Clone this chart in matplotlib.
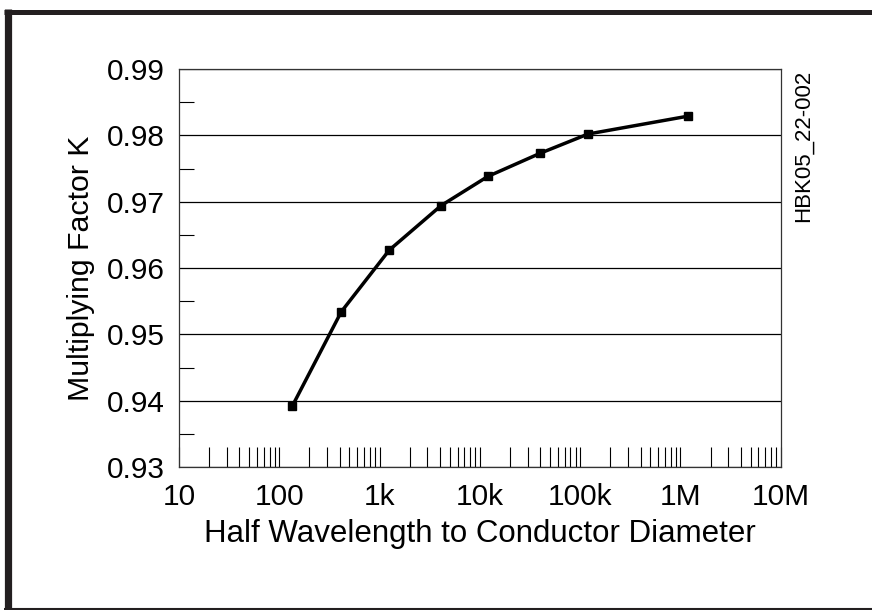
import matplotlib
matplotlib.use('Agg')
import matplotlib.pyplot as plt
from matplotlib.lines import Line2D
from matplotlib.ticker import FixedLocator, NullFormatter
import numpy as np

plt.rcParams['font.family'] = ['Liberation Sans', 'DejaVu Sans']

# values
ratio = [135, 415, 1250, 4100, 12000, 40000, 120000, 1200000]
factor_k = [0.9392, 0.9534, 0.9627, 0.9694, 0.9738, 0.9773, 0.9802, 0.9829]

x_ticks = [10, 100, 1e3, 1e4, 1e5, 1e6, 1e7]
x_labels = ['10', '100', '1k', '10k', '100k', '1M', '10M']
y_ticks = [0.93, 0.94, 0.95, 0.96, 0.97, 0.98, 0.99]
y_labels = ['0.93', '0.94', '0.95', '0.96', '0.97', '0.98', '0.99']

fig = plt.figure(figsize=(8.72, 6.10), dpi=100)
ax = fig.add_axes([179 / 872, 1 - 467 / 610, 601.7 / 872, 398 / 610])

ax.plot(ratio, factor_k, color='black', lw=2.5, marker='s', ms=6, zorder=3)

ax.set_xscale('log')
ax.set_xlim(10, 1e7)
ax.set_ylim(0.93, 0.99)

ax.set_xticks(x_ticks)
ax.set_xticklabels(x_labels)
minor_x = [m * 10 ** e for e in range(1, 7) for m in range(2, 10)]
ax.xaxis.set_minor_locator(FixedLocator(minor_x))
ax.xaxis.set_minor_formatter(NullFormatter())

ax.set_yticks(y_ticks)
ax.set_yticklabels(y_labels)
ax.yaxis.set_minor_locator(FixedLocator(np.arange(0.935, 0.99, 0.01)))

ax.tick_params(axis='x', which='both', direction='in', length=14.5,
               width=0.8, color='black', top=False, pad=11.5, labelsize=21.5)
ax.tick_params(axis='y', which='major', length=0, pad=10, labelsize=21.5)
ax.tick_params(axis='y', which='minor', direction='in', length=11,
               width=0.8, color='black', right=False)

ax.grid(axis='y', which='major', color='black', lw=0.9)
for s in ax.spines.values():
    s.set_linewidth(0.9)
    s.set_color('#333333')

ax.set_xlabel('Half Wavelength to Conductor Diameter', fontsize=22.5, labelpad=6)
ax.set_ylabel('Multiplying Factor K', fontsize=21.8, labelpad=9)

fig.text(803 / 872, 1 - 70 / 610, 'HBK05_22-002', rotation=90,
         ha='center', va='top', fontsize=16)

# outer frame of the figure (no right side)
fig.add_artist(Line2D([7.5 / 872, 7.5 / 872], [0, 1 - 9 / 610],
                      transform=fig.transFigure, color='#231f20', lw=5.2,
                      solid_capstyle='butt'))
fig.add_artist(Line2D([4 / 872, 1], [1 - 11.7 / 610, 1 - 11.7 / 610],
                      transform=fig.transFigure, color='#231f20', lw=3.6,
                      solid_capstyle='butt'))
fig.add_artist(Line2D([4 / 872, 1], [1.5 / 610, 1.5 / 610],
                      transform=fig.transFigure, color='#231f20', lw=1.5,
                      solid_capstyle='butt'))

fig.savefig('out.png', dpi=100, facecolor='white')
